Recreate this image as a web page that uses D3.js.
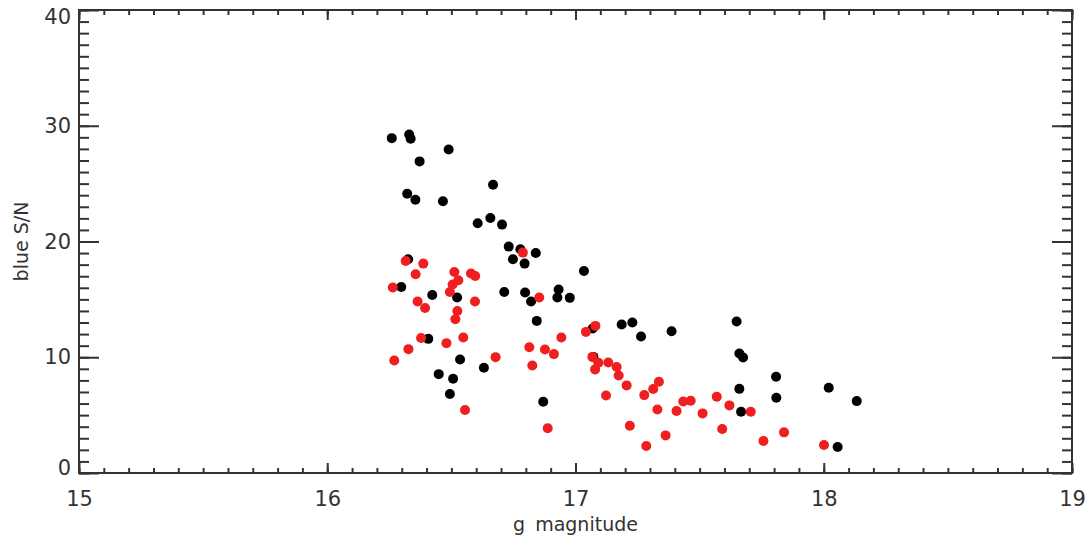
<!DOCTYPE html>
<html>
<head>
<meta charset="utf-8">
<script src="https://cdn.jsdelivr.net/npm/d3@7"></script>
<style>
  html, body { margin: 0; padding: 0; background: #fff; }
  svg { display: block; }
  .lbl { font-family: "DejaVu Sans", sans-serif; fill: #333; }
</style>
</head>
<body>
<svg id="chart" width="1088" height="541"></svg>
<script>
// ---- data ----
const blackMag = [16.26,16.33,16.336,16.489,16.372,16.668,16.322,16.355,16.466,16.606,16.657,16.704,16.731,16.778,16.84,16.748,16.795,16.326,16.298,16.423,16.523,16.713,16.797,16.821,16.932,16.927,16.977,17.034,16.844,16.407,16.535,16.631,16.449,16.507,16.494,16.87,17.069,17.186,17.229,17.264,17.387,17.649,17.66,17.675,17.808,17.809,17.66,17.667,17.072,18.02,18.133,18.056];
const blackSN  = [28.93,29.25,28.88,27.95,26.92,24.91,24.13,23.61,23.47,21.57,22.03,21.46,19.56,19.33,19.0,18.46,18.09,18.46,16.07,15.38,15.16,15.64,15.59,14.81,15.85,15.16,15.13,17.45,13.14,11.59,9.81,9.09,8.54,8.14,6.82,6.15,12.48,12.83,13.0,11.79,12.25,13.09,10.33,9.98,8.31,6.5,7.27,5.29,10.03,7.36,6.21,2.24];
const redMag = [16.316,16.387,16.356,16.264,16.512,16.528,16.505,16.494,16.579,16.596,16.595,16.364,16.394,16.524,16.516,16.854,16.378,16.48,16.548,16.327,16.27,16.678,16.555,16.814,16.877,16.913,16.943,16.826,16.888,17.042,17.08,16.788,17.068,17.092,17.132,17.079,17.166,17.174,17.206,17.123,17.219,17.285,17.277,17.313,17.336,17.33,17.363,17.407,17.434,17.464,17.512,17.569,17.591,17.62,17.706,17.757,17.84,18.001];
const redSN  = [18.32,18.09,17.17,16.02,17.37,16.65,16.28,15.64,17.23,17.02,14.81,14.81,14.26,14.0,13.29,15.16,11.67,11.22,11.71,10.7,9.72,10.01,5.44,10.87,10.67,10.27,11.71,9.29,3.86,12.19,12.71,19.04,10.03,9.52,9.55,8.95,9.15,8.43,7.57,6.7,4.08,2.33,6.73,7.25,7.88,5.49,3.25,5.35,6.18,6.24,5.15,6.58,3.8,5.84,5.29,2.76,3.51,2.42];
const xMajorTicks = [15, 16, 17, 18, 19];
const yMajorTicks = [0, 10, 20, 30, 40];
const xLabel = "g magnitude";
const yLabel = "blue S/N";

// ---- layout ----
const svg = d3.select("#chart");
const L = 79, R = 1072, T = 10, B = 473;
const x = d3.scaleLinear().domain([15, 19]).range([L, R]);
const y = d3.scaleLinear().domain([0, 40]).range([B, T]);
const axisColor = "#333";

const xMinor = d3.range(150, 191).map(v => v / 10);
const yMinor = d3.range(0, 41);

function styleAxis(g) {
  g.select(".domain").remove();
  g.selectAll(".tick line").attr("stroke", axisColor).attr("stroke-width", 2);
  g.selectAll(".tick text").attr("class", "lbl").attr("fill", axisColor)
    .style("font-size", "21px").style("font-family", '"DejaVu Sans", sans-serif');
}

// bottom
svg.append("g").attr("transform", `translate(0,${B})`)
  .call(d3.axisBottom(x).tickValues(xMinor).tickSize(-5).tickFormat(""))
  .call(styleAxis);
svg.append("g").attr("transform", `translate(0,${B})`)
  .call(d3.axisBottom(x).tickValues(xMajorTicks).tickSize(-10).tickPadding(18).tickFormat(d3.format("d")))
  .call(styleAxis);
// top
svg.append("g").attr("transform", `translate(0,${T})`)
  .call(d3.axisTop(x).tickValues(xMinor).tickSize(-5).tickFormat(""))
  .call(styleAxis);
svg.append("g").attr("transform", `translate(0,${T})`)
  .call(d3.axisTop(x).tickValues(xMajorTicks).tickSize(-10).tickFormat(""))
  .call(styleAxis);
// left
svg.append("g").attr("transform", `translate(${L},0)`)
  .call(d3.axisLeft(y).tickValues(yMinor).tickSize(-10).tickFormat(""))
  .call(styleAxis);
const yLabAxis = svg.append("g").attr("transform", `translate(${L},0)`)
  .call(d3.axisLeft(y).tickValues(yMajorTicks).tickSize(-20).tickPadding(8).tickFormat(d3.format("d")))
  .call(styleAxis);
// keep the end labels inside the picture, as in the reference
yLabAxis.selectAll(".tick text")
  .attr("y", d => d === 40 ? 7 : (d === 0 ? -5 : 0));
// right
svg.append("g").attr("transform", `translate(${R},0)`)
  .call(d3.axisRight(y).tickValues(yMinor).tickSize(-10).tickFormat(""))
  .call(styleAxis);
svg.append("g").attr("transform", `translate(${R},0)`)
  .call(d3.axisRight(y).tickValues(yMajorTicks).tickSize(-20).tickFormat(""))
  .call(styleAxis);

// frame
svg.append("rect").attr("x", L).attr("y", T).attr("width", R - L).attr("height", B - T)
  .attr("fill", "none").attr("stroke", axisColor).attr("stroke-width", 2);

// points
const blackPts = blackMag.map((g, i) => [g, blackSN[i]]);
const redPts = redMag.map((g, i) => [g, redSN[i]]);
svg.append("g").selectAll("circle").data(blackPts).join("circle")
  .attr("cx", d => x(d[0])).attr("cy", d => y(d[1])).attr("r", 5).attr("fill", "#000");
svg.append("g").selectAll("circle").data(redPts).join("circle")
  .attr("cx", d => x(d[0])).attr("cy", d => y(d[1])).attr("r", 5).attr("fill", "#f01e1e");

// axis titles
svg.append("text").attr("class", "lbl").attr("x", (L + R) / 2).attr("y", 531)
  .attr("text-anchor", "middle").style("font-size", "19px").style("word-spacing", "4px").text(xLabel);
svg.append("text").attr("class", "lbl")
  .attr("transform", `translate(28,${(T + B) / 2}) rotate(-90)`)
  .attr("text-anchor", "middle").style("font-size", "19px").text(yLabel);
</script>
</body>
</html>
